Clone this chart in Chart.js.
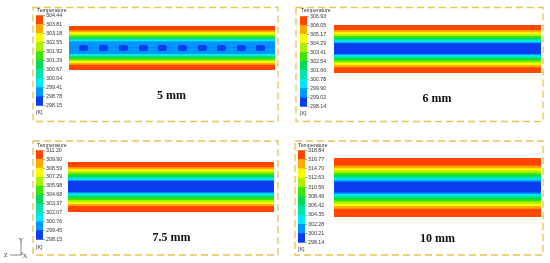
<!DOCTYPE html>
<html>
<head>
<meta charset="utf-8">
<script src="https://cdn.jsdelivr.net/npm/chart.js@4"></script>
<style>
  html, body { margin: 0; padding: 0; background: #fff; }
  #fig { position: relative; width: 550px; height: 263px; overflow: hidden; filter: blur(0.45px);
         font-family: "Liberation Sans", sans-serif; color: #333; }
  #fig canvas { position: absolute; }
  #fig svg { position: absolute; left: 0; top: 0; }
  .t { position: absolute; font-size: 5.3px; line-height: 6px; white-space: nowrap; }
  .mm { position: absolute; font: bold 12px "Liberation Serif", serif; color: #111; transform: translate(-50%, -50%); white-space: nowrap; }
  .ax { position: absolute; font: 7px "Liberation Serif", serif; color: #444; transform: translate(-50%, -50%); }
</style>
</head>
<body>
<div id="fig">
  <svg width="550" height="263">
    <g fill="none" stroke="#e9c44f" stroke-width="1.3" stroke-dasharray="7 4">
      <rect x="33" y="7.5" width="245" height="114"/>
      <rect x="296" y="7.5" width="247" height="114"/>
      <rect x="33" y="141" width="245" height="114"/>
      <rect x="295" y="141" width="248" height="114"/>
    </g>
    <path d="M21 242V255H10M21 255L23 252" fill="none" stroke="#555" stroke-width="0.7"/>
  </svg>

  <div class="t" style="left:37px;top:7px">Temperature</div>
  <div class="t" style="left:301px;top:7px">Temperature</div>
  <div class="t" style="left:37px;top:142px">Temperature</div>
  <div class="t" style="left:298px;top:142px">Temperature</div>

  <canvas id="bar5" width="33" height="99" style="left:36px;top:11px"></canvas>
  <canvas id="bar6" width="33" height="99" style="left:300px;top:12px"></canvas>
  <canvas id="bar75" width="33" height="98" style="left:36px;top:146px"></canvas>
  <canvas id="bar10" width="33" height="101" style="left:298px;top:146px"></canvas>

  <canvas id="map5" width="206" height="44" style="left:69px;top:26px"></canvas>
  <canvas id="map6" width="207" height="48" style="left:334px;top:25px"></canvas>
  <canvas id="map75" width="206" height="50" style="left:68px;top:162px"></canvas>
  <canvas id="map10" width="207" height="59" style="left:334px;top:158px"></canvas>

  <div class="t" style="left:36px;top:109px">[K]</div>
  <div class="t" style="left:300px;top:110px">[K]</div>
  <div class="t" style="left:36px;top:244px">[K]</div>
  <div class="t" style="left:298px;top:246px">[K]</div>

  <div class="mm" style="left:171.5px;top:95px">5 mm</div>
  <div class="mm" style="left:437px;top:98px">6 mm</div>
  <div class="mm" style="left:171.5px;top:236.5px">7.5 mm</div>
  <div class="mm" style="left:437.5px;top:238px">10 mm</div>

  <div class="ax" style="left:21px;top:240px">Y</div>
  <div class="ax" style="left:6px;top:255px">Z</div>
  <div class="ax" style="left:25px;top:256px">X</div>
</div>

<script>
// colour classes of the legend, coldest first
const legendColors = ['#0a3cf0', '#0096ff', '#00e8f5', '#00e6aa', '#00dc5a', '#3ce600', '#aaf000', '#fafa00', '#ffaa00', '#ff4600'];

// temperature labels of each colour bar [K], top to bottom
const ticks5 = [304.44, 303.81, 303.18, 302.55, 301.92, 301.29, 300.67, 300.04, 299.41, 298.78, 298.15];
const ticks6 = [306.93, 306.05, 305.17, 304.29, 303.41, 302.54, 301.66, 300.78, 299.90, 299.02, 298.14];
const ticks75 = [311.20, 309.90, 308.59, 307.29, 305.98, 304.68, 303.37, 302.07, 300.76, 299.45, 298.15];
const ticks10 = [318.84, 316.77, 314.70, 312.63, 310.56, 308.49, 306.42, 304.35, 302.28, 300.21, 298.14];

// class of each stripe in the contour, bottom to top
const stripeClasses = [9, 8, 7, 6, 5, 4, 3, 2, 1, 0, 1, 2, 3, 4, 5, 6, 7, 8, 9];

// stripe thickness, bottom to top
const stripes5 = [4.8, 1.8, 1.8, 1.5, 1.5, 1.5, 1.4, 1.2, 6.25, 0, 6.25, 1.2, 1.4, 1.5, 1.5, 1.5, 1.8, 1.8, 4.8];
const stripes6 = [5.4, 2, 2, 1.7, 1.7, 1.5, 1.5, 1.5, 1, 10.4, 1, 1.5, 1.5, 1.5, 1.7, 1.7, 2, 2, 5.4];
const stripes75 = [5.7, 2, 2, 2, 2, 1.7, 1.5, 1.5, 1, 11.2, 1, 1.5, 1.5, 1.7, 2, 2, 2, 2, 5.7];
const stripes10 = [8, 2.7, 2.3, 2.3, 2, 2, 2, 1.5, 1.5, 10.7, 1.5, 1.5, 2, 2, 2, 2.3, 2.3, 2.7, 8];

// cold spots of the 5 mm case, along the channel
const spots5 = [14.3, 34, 54, 74, 93, 113, 133, 152, 172, 191];
const channelLength = 206;

function spotImage() {
  const c = document.createElement('canvas');
  c.width = 9;
  c.height = 6;
  const ctx = c.getContext('2d');
  ctx.fillStyle = legendColors[0];
  ctx.beginPath();
  ctx.roundRect(0, 0, 9, 6, 2);
  ctx.fill();
  return c;
}

function makeColorbar(id, ticks) {
  const bands = legendColors.map((color, i) => ({
    data: [[ticks[10 - i], ticks[9 - i]]],
    backgroundColor: color,
    grouped: false,
    barPercentage: 1,
    categoryPercentage: 1,
  }));
  new Chart(document.getElementById(id), {
    type: 'bar',
    data: { labels: [''], datasets: bands },
    options: {
      responsive: false,
      animation: false,
      layout: { padding: { top: 4, bottom: 4 } },
      plugins: { legend: false, tooltip: { enabled: false } },
      scales: {
        x: { display: false },
        y: {
          position: 'right',
          min: ticks[10],
          max: ticks[0],
          border: { display: false },
          grid: { drawOnChartArea: false, tickLength: 2, color: '#777', lineWidth: 0.6 },
          afterBuildTicks: (scale) => { scale.ticks = ticks.map((value) => ({ value })); },
          afterFit: (scale) => { scale.width = 26; },
          ticks: {
            autoSkip: false,
            padding: 1,
            color: '#333',
            font: { family: 'Liberation Sans', size: 5.3 },
            callback: (value) => value.toFixed(2),
          },
        },
      },
    },
  });
}

function makeContour(id, stripes, spots) {
  const canvas = document.getElementById(id);
  const total = stripes.reduce((a, b) => a + b, 0);
  const datasets = stripes.map((t, i) => ({
    type: 'bar',
    data: [{ x: channelLength / 2, y: t }],
    backgroundColor: legendColors[stripeClasses[i]],
    barThickness: canvas.width,
  }));
  if (spots) {
    datasets.push({
      type: 'scatter',
      stack: 'spots',
      order: -1,
      data: spots.map((x) => ({ x, y: total / 2 })),
      pointStyle: spotImage(),
    });
  }
  new Chart(canvas, {
    data: { datasets },
    options: {
      responsive: false,
      animation: false,
      layout: { autoPadding: false },
      plugins: { legend: false, tooltip: { enabled: false } },
      scales: {
        x: { type: 'linear', display: false, stacked: true, min: 0, max: channelLength, offset: false },
        y: { display: false, stacked: true, min: 0, max: total },
      },
    },
  });
}

makeColorbar('bar5', ticks5);
makeColorbar('bar6', ticks6);
makeColorbar('bar75', ticks75);
makeColorbar('bar10', ticks10);

makeContour('map5', stripes5, spots5);
makeContour('map6', stripes6);
makeContour('map75', stripes75);
makeContour('map10', stripes10);
</script>
</body>
</html>
